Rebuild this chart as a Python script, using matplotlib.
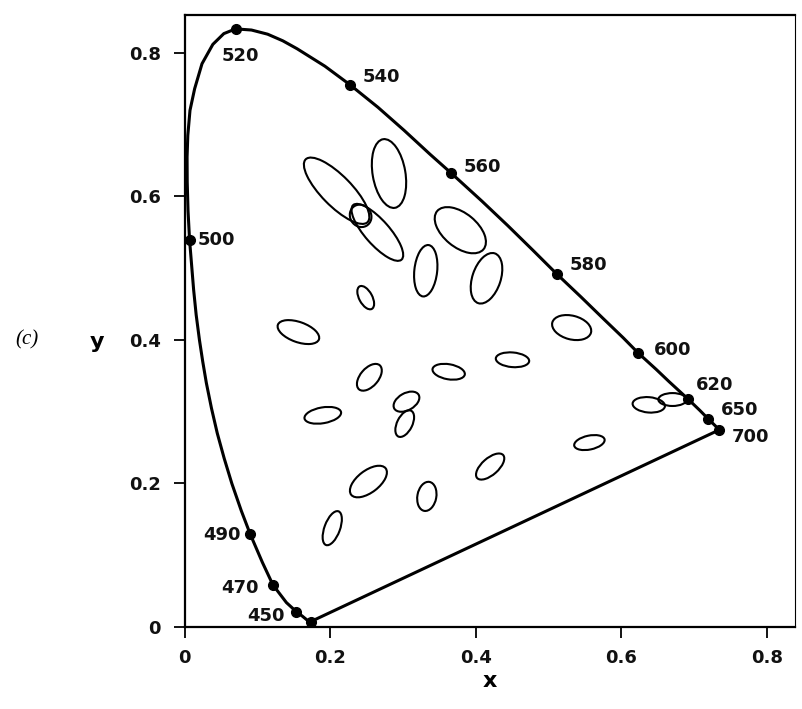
import matplotlib
matplotlib.use("Agg")
import matplotlib.pyplot as plt
from matplotlib.patches import Ellipse

# Spectral locus (chromaticity x, y), from the short-wave end round to 700 nm
locus_x = [0.1733, 0.1680, 0.1620, 0.1536, 0.1400, 0.1215, 0.1070, 0.0903,
           0.0780, 0.0650, 0.0545, 0.0450, 0.0370, 0.0300, 0.0250, 0.0205,
           0.0160, 0.0125, 0.0069, 0.0048, 0.0037, 0.0035, 0.0045, 0.0075,
           0.0139, 0.0240, 0.0389, 0.0540, 0.0702, 0.0920, 0.1142, 0.1350,
           0.1547, 0.1929, 0.2270, 0.2658, 0.3016, 0.3373, 0.3660, 0.4087,
           0.4441, 0.4788, 0.5112, 0.5448, 0.5752, 0.6029, 0.6236, 0.6482,
           0.6658, 0.6920, 0.7080, 0.7200, 0.7350]
locus_y = [0.0074, 0.0100, 0.0150, 0.0214, 0.0340, 0.0586, 0.0900, 0.1293,
           0.1620, 0.2000, 0.2350, 0.2700, 0.3050, 0.3400, 0.3700, 0.4000,
           0.4350, 0.4700, 0.5397, 0.5800, 0.6200, 0.6550, 0.6850, 0.7200,
           0.7502, 0.7850, 0.8120, 0.8270, 0.8336, 0.8320, 0.8262, 0.8170,
           0.8059, 0.7816, 0.7560, 0.7243, 0.6923, 0.6589, 0.6330, 0.5935,
           0.5595, 0.5250, 0.4923, 0.4600, 0.4300, 0.4030, 0.3817, 0.3590,
           0.3420, 0.3176, 0.3020, 0.2897, 0.2748]

# Marked wavelengths on the locus
mark_labels = ["450", "470", "490", "500", "520", "540", "560", "580",
               "600", "620", "650", "700", ""]
mark_x = [0.1536, 0.1215, 0.0903, 0.0069, 0.0702, 0.2270, 0.3660, 0.5112,
          0.6236, 0.6920, 0.7200, 0.7350, 0.1733]
mark_y = [0.0214, 0.0586, 0.1293, 0.5397, 0.8336, 0.7560, 0.6330, 0.4923,
          0.3817, 0.3176, 0.2897, 0.2748, 0.0074]
# label offsets in pixels and alignment
mark_dx = [-12, -14, -10, 8, 5, 13, 13, 13, 16, 8, 12, 12, 0]
mark_dy = [-4, -3, -1, 0, -27, 8, 6, 9, 3, 14, 9, -7, 0]
mark_ha = ["right", "right", "right", "left", "center", "left", "left",
           "left", "left", "left", "left", "left", "left"]

# Discrimination ellipses: centre, semi-axes, orientation (deg)
ell_x = [0.209, 0.265, 0.242, 0.281, 0.379, 0.3315, 0.415, 0.249, 0.1565,
         0.4507, 0.363, 0.254, 0.190, 0.305, 0.3026, 0.2527, 0.333, 0.420,
         0.203, 0.532, 0.638, 0.6706, 0.5564]
ell_y = [0.608, 0.550, 0.573, 0.632, 0.553, 0.4965, 0.486, 0.459, 0.411,
         0.3724, 0.3557, 0.348, 0.295, 0.314, 0.2834, 0.2027, 0.182, 0.2236,
         0.1377, 0.4173, 0.3096, 0.317, 0.257]
ell_a = [0.061, 0.0505, 0.016, 0.0485, 0.0415, 0.036, 0.0365, 0.0178, 0.030,
         0.023, 0.0225, 0.022, 0.0255, 0.0193, 0.020, 0.030, 0.0205, 0.024,
         0.025, 0.0275, 0.0223, 0.0195, 0.0213]
ell_b = [0.021, 0.017, 0.0145, 0.0225, 0.0235, 0.0157, 0.0195, 0.009, 0.014,
         0.0102, 0.0105, 0.0125, 0.011, 0.0118, 0.0105, 0.0152, 0.013, 0.0115,
         0.0107, 0.0165, 0.0107, 0.009, 0.0097]
ell_angle = [-46, -49, -60, 99.6, -40, 84, 72, 118, -20, -5, -10, 50, 10, 30,
             64, 38, 80, 42, 70, -15, -5, 0, 12]

ticks = [0, 0.2, 0.4, 0.6, 0.8]
tick_labels = ["0", "0.2", "0.4", "0.6", "0.8"]

plt.rcParams["font.family"] = ["DejaVu Sans"]

fig = plt.figure(figsize=(8.03, 7.09), dpi=100)
ax = fig.add_axes([0.2298, 0.1157, 0.7603, 0.8632])

# closed horseshoe: locus plus the purple line back to the start
ax.plot(locus_x + [locus_x[0]], locus_y + [locus_y[0]], color="black",
        linewidth=2.2, solid_joinstyle="round", zorder=3)
ax.plot(mark_x, mark_y, "o", color="black", markersize=7, zorder=4)

for lab, x, y, dx, dy, ha in zip(mark_labels, mark_x, mark_y,
                                 mark_dx, mark_dy, mark_ha):
    if lab:
        ax.annotate(lab, (x, y), xytext=(dx, dy), textcoords="offset pixels",
                    ha=ha, va="center", fontsize=13, fontweight="bold",
                    color="#111111")

for x, y, a, b, ang in zip(ell_x, ell_y, ell_a, ell_b, ell_angle):
    ax.add_patch(Ellipse((x, y), 2 * a, 2 * b, angle=ang, fill=False,
                         edgecolor="black", linewidth=1.5, zorder=2))

ax.set_xlim(0, 0.839)
ax.set_ylim(0, 0.853)
ax.set_xticks(ticks)
ax.set_xticklabels(tick_labels)
ax.set_yticks(ticks)
ax.set_yticklabels(tick_labels)
ax.tick_params(direction="out", length=8, width=1.3, labelsize=13)
ax.tick_params(axis="x", pad=8)
ax.tick_params(axis="y", pad=9)
for lbl in ax.get_xticklabels() + ax.get_yticklabels():
    lbl.set_fontweight("bold")
    lbl.set_color("#111111")
for side in ["left", "bottom", "top"]:
    ax.spines[side].set_linewidth(1.6)
ax.spines["right"].set_linewidth(0.8)

ax.set_xlabel("x", fontsize=16, fontweight="bold", labelpad=3)
fig.text(0.121, 0.517, "y", fontsize=16, fontweight="bold",
         ha="center", va="center")
fig.text(0.034, 0.520, "(c)", fontsize=15, ha="center", va="center",
         family="Liberation Serif", style="italic")

fig.savefig("out.png", dpi=100)
